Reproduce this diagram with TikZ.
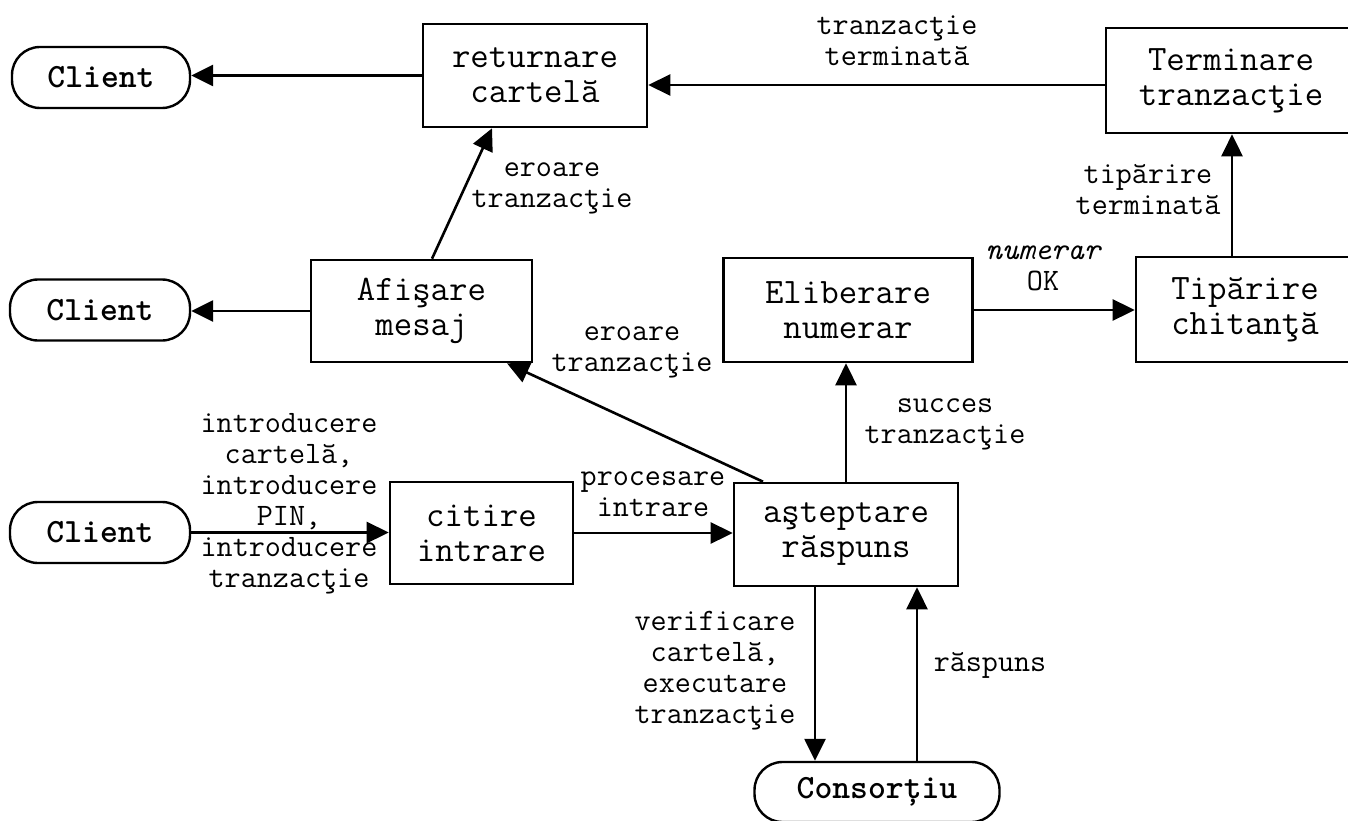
\documentclass[tikz,border=0pt]{standalone}
\usepackage{fontspec}
\setmainfont{Latin Modern Mono}
\newfontfamily\entfam{lmmonolt10-bold}[Extension=.otf]
\usetikzlibrary{arrows.meta}
\newcommand\boxfont{\fontsize{35.8}{35}\selectfont}
\newcommand\lblfont{\fontsize{31.2}{31}\selectfont}
\newcommand\entfont{\entfam\fontsize{34}{34}\selectfont}
\begin{document}
\begin{tikzpicture}[x=1pt,y=-1pt,
  proc/.style 2 args={draw, line width=2.6pt, inner sep=0pt, align=center,
    minimum width=#1, minimum height=#2, font=\boxfont},
  ent/.style 2 args={draw, line width=2.4pt, rounded corners=28pt, inner sep=0pt,
    minimum width=#1, minimum height=#2, font=\entfont},
  lbl/.style={align=center, font=\lblfont, inner sep=0pt},
  arr/.style={line width=2.6pt, -{Triangle[length=22pt,width=21pt]}}]
\useasboundingbox (0,0) rectangle (1348,821);
\clip (0,0) rectangle (1348,821);

% external entities
\node[ent={178pt}{61pt}] (client1) at (101,77.5) {Client};
\node[ent={180pt}{61pt}] (client2) at (100,310) {Client};
\node[ent={180pt}{61pt}] (client3) at (100,532.5) {Client};
\node[ent={245pt}{60pt}] (consort) at (877,792) {Consorțiu};

% processes
\node[proc={224pt}{103pt}] (ret) at (535,75.5) {returnare\\cartelă};
\node[proc={250pt}{105pt}] (term) at (1231,80.5) {Terminare\\tranzacţie};
\node[proc={221pt}{102pt}] (afis) at (421.5,311) {Afişare\\mesaj};
\node[proc={249pt}{104pt}] (elib) at (848,310) {Eliberare\\numerar};
\node[proc={218pt}{105pt}] (tip) at (1245,309.5) {Tipărire\\chitanţă};
\node[proc={183pt}{102pt}] (citire) at (481.5,533) {citire\\intrare};
\node[proc={224pt}{103pt}] (astept) at (846,534.5) {aşteptare\\răspuns};

% flows
\draw[arr] (ret.west) -- (client1.east |- ret.west);
\coordinate (t2) at ([yshift=-4.5pt]term.west);
\draw[arr] (t2) -- (ret.east |- t2);
\draw[arr] (afis.west) -- (client2.east |- afis.west);
\draw[arr] ([xshift=10.5pt]afis.north) -- ([xshift=-43pt]ret.south);
\draw[arr] ([xshift=-83pt]astept.north) -- ([xshift=85.5pt]afis.south);
\draw[arr] (citire.east) -- (astept.west |- citire.east);
\draw[arr] (client3.east) -- (citire.west |- client3.east);
\draw[arr] (astept.north) -- (astept.north |- elib.south);
\draw[arr] (elib.east) -- (tip.west |- elib.east);
\coordinate (t10) at ([xshift=-13pt]tip.north);
\draw[arr] (t10) -- (t10 |- term.south);
\coordinate (t11) at ([xshift=-31pt]astept.south);
\draw[arr] (t11) -- (t11 |- consort.north);
\coordinate (t12) at ([xshift=40pt]consort.north);
\draw[arr] (t12) -- (t12 |- astept.south);

% flow labels
\node[lbl] (lterm) at (897,41) {tranzacţie\\terminată};
\node[lbl] (lerr1) at (552,188) {eroare\\tranzacţie};
\node[lbl] (lerr2) at (632,352) {eroare\\tranzacţie};
\node[lbl] (lproc) at (653,494) {procesare\\intrare};
\node[lbl] (lin) at (289,504) {introducere\\cartelă,\\introducere\\PIN,\\introducere\\tranzacţie};
\node[lbl] (lsucc) at (945,424) {succes\\tranzacţie};
\node[lbl] (lnum) at (1043,268) {\itshape numerar\\OK};
\node[lbl] (ltip) at (1148,190) {tipărire\\terminată};
\node[lbl] (lver) at (715,671) {verificare\\cartelă,\\executare\\tranzacţie};
\node[lbl] (lrasp) at (990,665) {răspuns};
\end{tikzpicture}
\end{document}
